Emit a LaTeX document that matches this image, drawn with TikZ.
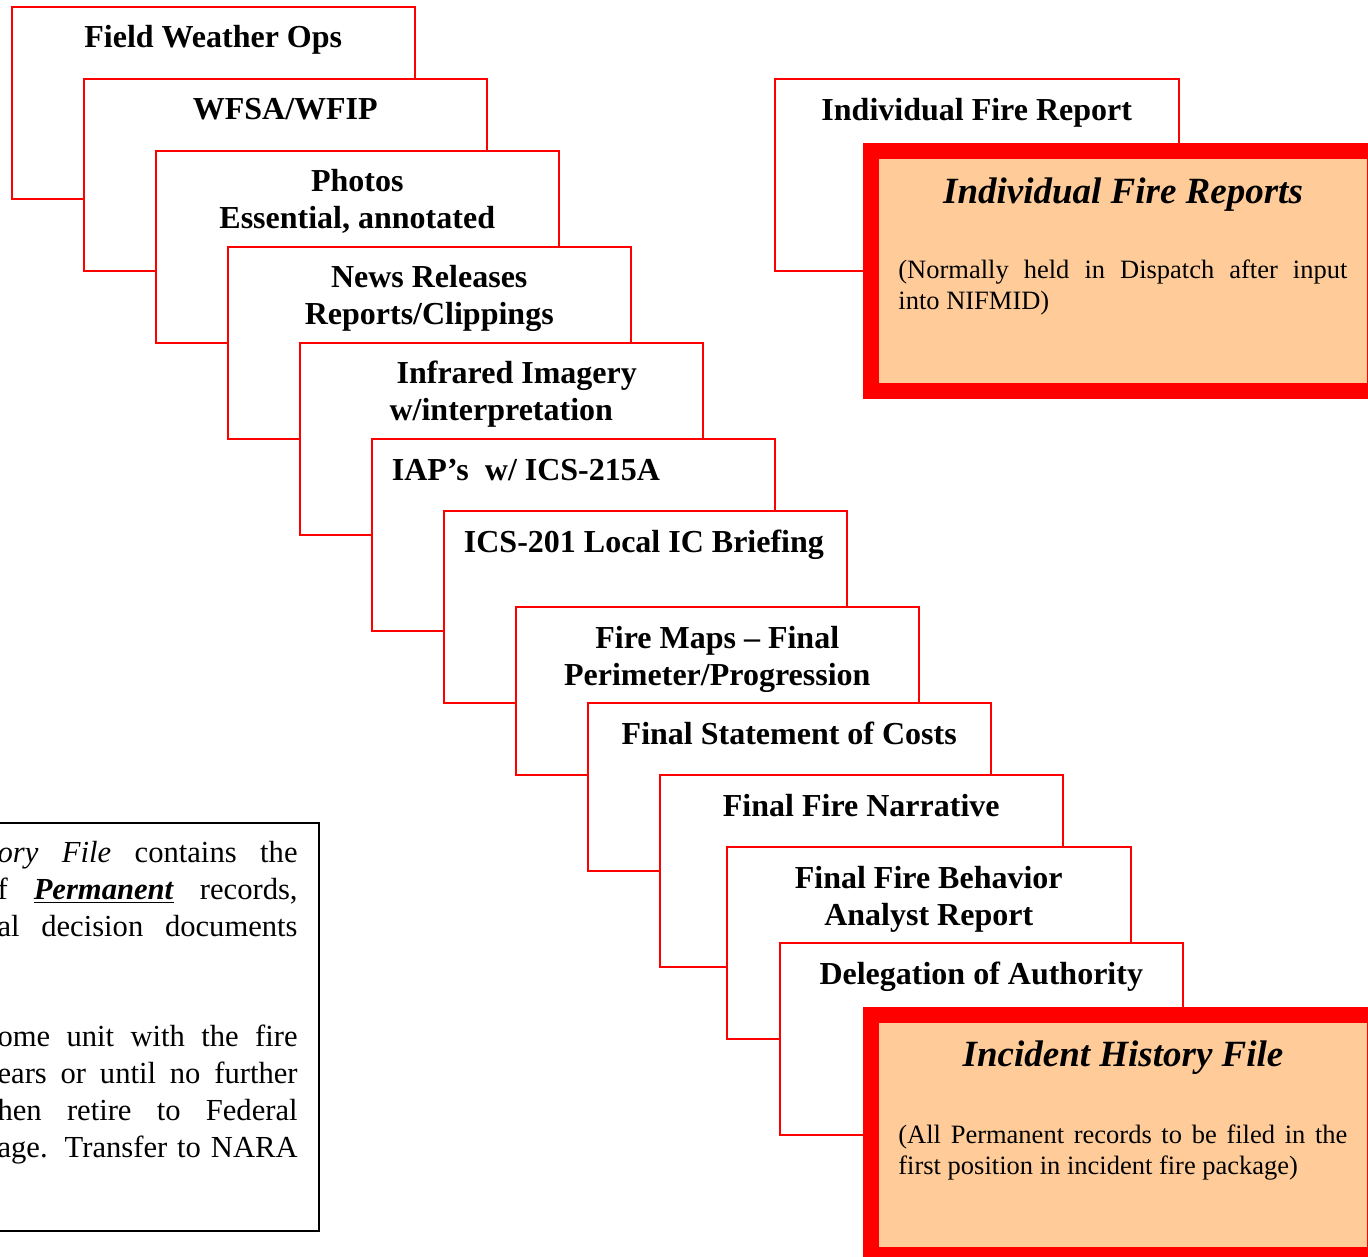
\documentclass[tikz,border=0pt]{standalone}
\usepackage{fontspec}
\setmainfont{Liberation Serif}
\definecolor{peach}{HTML}{FFCC99}
\begin{document}
\begin{tikzpicture}[x=0.5pt,y=-0.5pt,
    sheet/.style={draw=red,line width=1pt,fill=white,anchor=north west,
      inner sep=0pt,outer sep=0pt,minimum width=201.75pt,minimum height=96pt},
    shortsheet/.style={sheet,minimum height=84pt},
    heading/.style={font=\fontsize{16}{18.5}\selectfont\bfseries,align=center,
      anchor=base,inner sep=0pt},
    leftheading/.style={heading,anchor=base west},
    folder/.style={draw=red,line width=8pt,fill=peach,anchor=north west,
      inner sep=0pt,outer sep=0pt,minimum width=252pt,minimum height=120pt},
    foldertitle/.style={font=\fontsize{18.5}{22}\selectfont\bfseries\itshape,
      anchor=base,inner sep=0pt},
    foldertext/.style={font=\fontsize{13.25}{15.5}\selectfont,anchor=base west,inner sep=0pt},
    notetext/.style={font=\fontsize{15.3}{18.5}\selectfont,anchor=base east,inner sep=0pt}]
  \useasboundingbox (0,0) rectangle (1368,1256);

  \node[draw,line width=1pt,fill=white,anchor=north east,inner sep=0pt,outer sep=0pt,
    minimum width=169.5pt,minimum height=204pt] (note) at (319,823) {};
  \node[notetext] (n1) at ([xshift=-10.5pt,yshift=-19.5pt]note.north east)
    {\makebox[150pt][s]{\textit{ory File} contains the}};
  \node[notetext] (n2) at ([yshift=-18.5pt]n1.base east)
    {\makebox[150pt][s]{f \underline{\textbf{\textit{Permanent}}} records,}};
  \node[notetext] (n3) at ([yshift=-18.5pt]n2.base east)
    {\makebox[150pt][s]{al decision documents}};
  \node[notetext] (n6) at ([yshift=-55pt]n3.base east)
    {\makebox[150pt][s]{ome unit with the fire}};
  \node[notetext] (n7) at ([yshift=-18.5pt]n6.base east)
    {\makebox[150pt][s]{ears or until no further}};
  \node[notetext] (n8) at ([yshift=-18.5pt]n7.base east)
    {\makebox[150pt][s]{hen retire to Federal}};
  \node[notetext] (n9) at ([yshift=-18.5pt]n8.base east)
    {\makebox[150pt][s]{age. Transfer to NARA}};

  \node[sheet] (fwo) at (11.5,7) {};
  \node[heading] (fwo-t) at ([yshift=-20.5pt]fwo.north) {Field Weather Ops};
  \node[sheet] (wfsa) at (83.5,79) {};
  \node[heading] (wfsa-t) at ([yshift=-20.5pt]wfsa.north) {WFSA/WFIP};
  \node[sheet] (photos) at (155.5,151) {};
  \node[heading] (photos-t) at ([yshift=-39pt]photos.north) {Photos\\Essential, annotated};
  \node[sheet] (news) at (227.5,247) {};
  \node[heading] (news-t) at ([yshift=-39pt]news.north) {News Releases\\Reports/Clippings};
  \node[sheet] (infrared) at (299.5,343) {};
  \node[heading] (infrared-t) at ([yshift=-39pt]infrared.north)
    {\hspace*{15.5pt}Infrared Imagery\\w/interpretation};
  \node[sheet] (iap) at (371.5,439) {};
  \node[leftheading] (iap-t) at ([xshift=10pt,yshift=-20.5pt]iap.north west) {IAP’s\ \ w/ ICS-215A};
  \node[sheet] (ics) at (443.5,511) {};
  \node[leftheading] (ics-t) at ([xshift=10pt,yshift=-20.5pt]ics.north west) {ICS-201 Local IC Briefing};
  \node[shortsheet] (maps) at (515.5,607) {};
  \node[heading] (maps-t) at ([yshift=-39pt]maps.north) {Fire Maps – Final\\Perimeter/Progression};
  \node[shortsheet] (costs) at (587.5,703) {};
  \node[heading] (costs-t) at ([yshift=-20.5pt]costs.north) {Final Statement of Costs};
  \node[sheet] (narrative) at (659.5,775) {};
  \node[heading] (narrative-t) at ([yshift=-20.5pt]narrative.north) {Final Fire Narrative};
  \node[sheet] (fba) at (727,847) {};
  \node[heading] (fba-t) at ([yshift=-39pt]fba.north) {Final Fire Behavior\\Analyst Report};
  \node[sheet] (doa) at (779.5,943) {};
  \node[heading] (doa-t) at ([yshift=-20.5pt]doa.north) {Delegation of Authority};
  \node[folder] (ihf) at (871,1015) {};
  \node[foldertitle] (ihf-t) at ([yshift=-25.5pt]ihf.north) {Incident History File};
  \node[foldertext] (ihf-a) at ([xshift=13.5pt,yshift=-64pt]ihf.north west)
    {\makebox[224.5pt][s]{(All Permanent records to be filed in the}};
  \node[foldertext] (ihf-b) at ([yshift=-15.5pt]ihf-a.base west)
    {first position in incident fire package)};

  \node[sheet] (ifr) at (775,79) {};
  \node[heading] (ifr-t) at ([yshift=-21pt]ifr.north) {Individual Fire Report};
  \node[folder] (ifrs) at (871,151) {};
  \node[foldertitle] (ifrs-t) at ([yshift=-26.5pt]ifrs.north) {Individual Fire Reports};
  \node[foldertext] (ifrs-a) at ([xshift=13.5pt,yshift=-64pt]ifrs.north west)
    {\makebox[224.5pt][s]{(Normally held in Dispatch after input}};
  \node[foldertext] (ifrs-b) at ([yshift=-15.5pt]ifrs-a.base west) {into NIFMID)};
\end{tikzpicture}
\end{document}
